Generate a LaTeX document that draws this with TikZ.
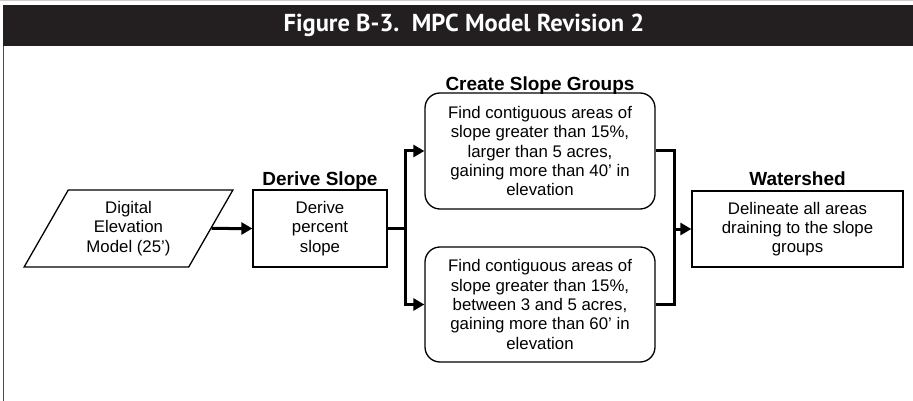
\documentclass[tikz,border=0pt]{standalone}
\usepackage{fontspec}
\setmainfont{Liberation Sans}
\newfontfamily\titlefont{PT Sans}
\usepackage{xcolor}
\usepackage{tikz}
\usetikzlibrary{positioning, arrows.meta, shapes.geometric}

\definecolor{banddark}{HTML}{231F20}

\begin{document}
\begin{tikzpicture}[
    x=1pt, y=-1pt,
    box/.style={draw, line width=1.3pt, align=center, inner sep=2pt,
        font=\fontsize{16.8}{19.3}\selectfont},
    roundbox/.style={box, rounded corners=15pt, minimum width=230pt, minimum height=116pt},
    databox/.style={box, trapezium, trapezium left angle=61, trapezium right angle=119,
        trapezium stretches=true, minimum width=209pt, minimum height=77pt},
    heading/.style={font=\fontsize{19}{22}\selectfont\bfseries, inner sep=0pt, anchor=base},
    line/.style={line width=3pt, line join=miter},
    arrow/.style={line, -{Triangle[length=11pt, width=12pt]}}
]
\useasboundingbox (0,0) rectangle (913,401);

% Frame and title band
\draw[gray!40, line width=1pt] (0,1) -- (913,1);
\fill[banddark] (3,5) rectangle (913,46);
\draw[banddark!80, line width=1pt] (3.5,46) -- (3.5,401);
\node[text=white, font=\titlefont\fontsize{24.5}{28}\selectfont\bfseries] (title) at (464,25)
    {Figure B-3.\ \ MPC Model Revision 2};

% Input and first step
\node[databox] (dem) at (128.5,228.5) {Digital\\Elevation\\Model (25')};
\node[box, minimum width=134pt, minimum height=77pt] (slope) at (320,228.5) {Derive\\percent\\slope};

% Slope groups
\node[roundbox] (grpA) at (540,151) {Find contiguous areas of\\slope greater than 15\%,\\larger than 5 acres,\\gaining more than 40' in\\elevation};
\node[roundbox, minimum height=115pt] (grpB) at (540,304.5) {Find contiguous areas of\\slope greater than 15\%,\\between 3 and 5 acres,\\gaining more than 60' in\\elevation};

% Watershed
\node[box, minimum width=211pt, minimum height=76pt] (shed) at (797.5,229) {Delineate all areas\\draining to the slope\\groups};

% Headings
\node[heading, above=4pt of slope.north, anchor=base] (hslope) {Derive Slope};
\node[heading, above=2pt of grpA.north, anchor=base] (hgroups) {Create Slope Groups};
\node[heading, above=5pt of shed.north, anchor=base] (hshed) {Watershed};

% Connectors
\coordinate (split) at (405,228.5);
\coordinate (merge) at (674,229);
\draw[arrow] (dem) -- (slope);
\draw[line] (slope) -- (split);
\draw[arrow] (split) |- (grpA);
\draw[arrow] (split) |- (grpB);
\draw[line] (grpA.east) -| (merge) |- (grpB.east);
\draw[arrow] (merge) -- (shed);

\end{tikzpicture}
\end{document}
